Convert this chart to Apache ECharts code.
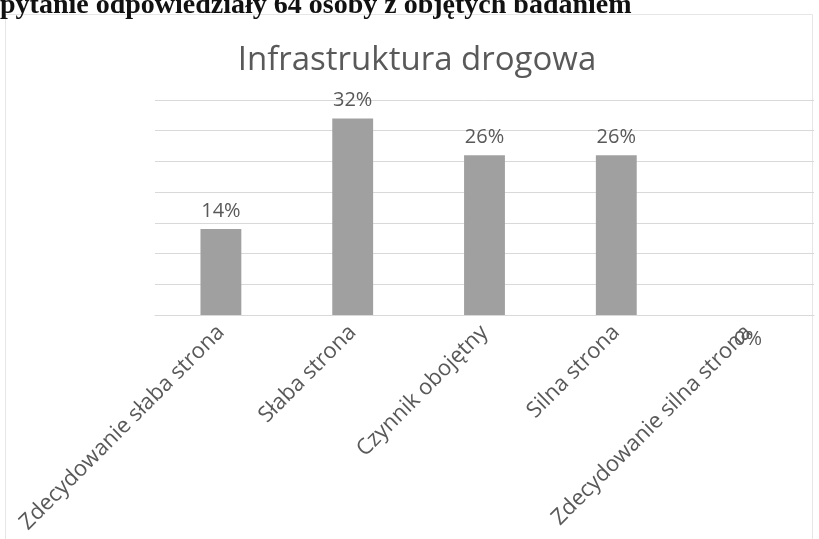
<!DOCTYPE html>
<html>
<head>
<meta charset="utf-8">
<script src="https://cdn.jsdelivr.net/npm/echarts@6/dist/echarts.min.js"></script>
<style>
  html, body { margin: 0; padding: 0; background: #ffffff; }
  #chart { width: 819px; height: 539px; }
</style>
</head>
<body>
<div id="chart"></div>
<script>
const titleText = 'Infrastruktura drogowa';
const headerText = 'pytanie odpowiedziały 64 osoby z objętych badaniem';
const categories = ['Zdecydowanie słaba strona', 'Słaba strona', 'Czynnik obojętny', 'Silna strona', 'Zdecydowanie silna strona'];
const values = [14, 32, 26, 26, 0];
const yMin = 0, yMax = 35, yStep = 5;

const chart = echarts.init(document.getElementById('chart'), null, { renderer: 'canvas' });

const seriesData = values.map(function (v) {
  if (v === 0) {
    return { value: v, label: { position: 'bottom', distance: 14 } };
  }
  return v;
});

chart.setOption({
  animation: false,
  backgroundColor: '#ffffff',
  title: {
    text: titleText,
    left: 412,
    top: 39,
    textAlign: 'center',
    textStyle: { fontFamily: 'Open Sans', fontSize: 33, fontWeight: 'normal', color: '#595959' }
  },
  graphic: [
    {
      type: 'rect', silent: true, z: -1,
      shape: { x: 5.5, y: 14.5, width: 807, height: 530 },
      style: { fill: 'none', stroke: '#e6e6e6', lineWidth: 1 }
    },
    {
      type: 'text', silent: true,
      style: {
        x: 0, y: 6, text: headerText,
        font: 'bold 28px "Liberation Serif"',
        fill: '#111111', verticalAlign: 'middle', align: 'left'
      }
    }
  ],
  grid: { left: 155, right: 5, top: 100, bottom: 224, containLabel: false },
  xAxis: {
    type: 'category',
    data: categories,
    axisLine: { lineStyle: { color: '#d9d9d9', width: 1 } },
    axisTick: { show: false },
    axisLabel: {
      rotate: 45, margin: 14, interval: 0,
      fontFamily: 'Open Sans', fontSize: 22, color: '#595959'
    }
  },
  yAxis: {
    type: 'value',
    min: yMin, max: yMax, interval: yStep,
    axisLabel: { show: false },
    axisLine: { show: false },
    axisTick: { show: false },
    splitLine: { lineStyle: { color: '#d9d9d9', width: 1 } }
  },
  series: [{
    type: 'bar',
    data: seriesData,
    barWidth: '31%',
    itemStyle: { color: '#a0a0a0' },
    label: {
      show: true, position: 'top', distance: 8,
      formatter: '{c}%',
      fontFamily: 'Open Sans', fontSize: 20, color: '#595959'
    }
  }]
});
</script>
</body>
</html>
